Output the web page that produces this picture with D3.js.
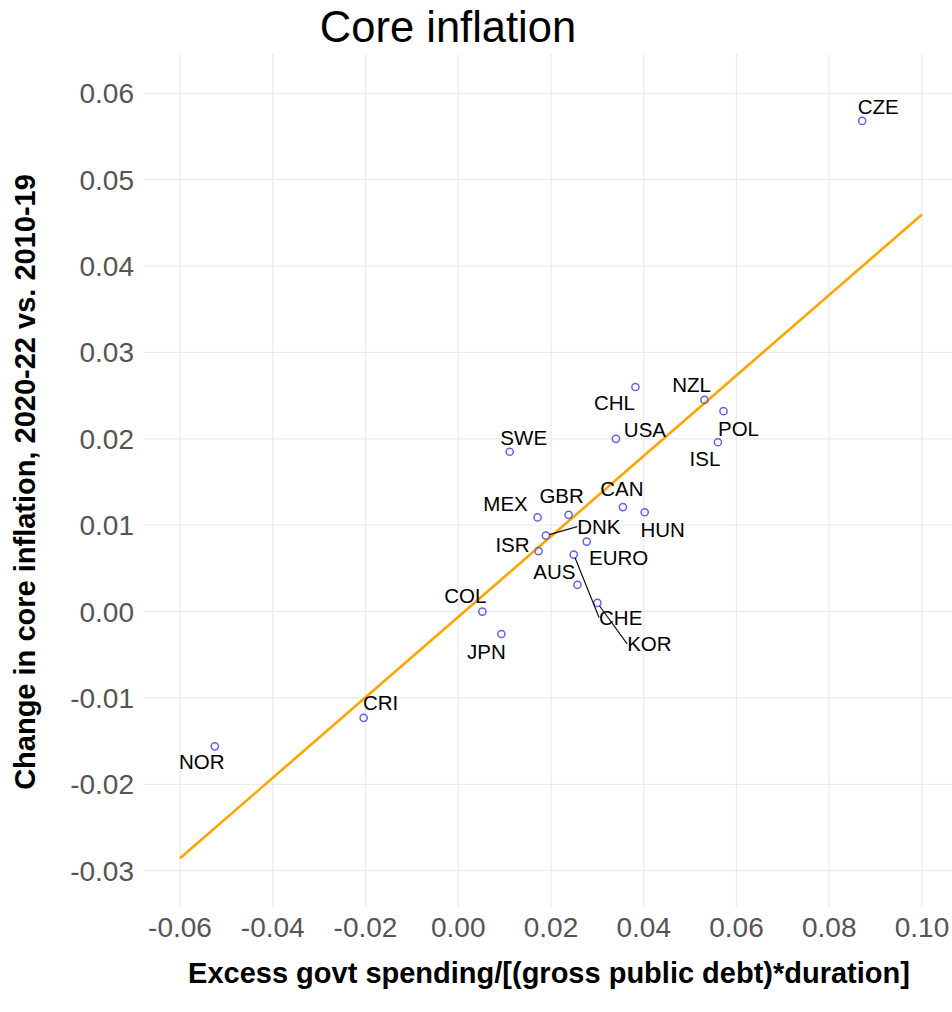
<!DOCTYPE html>
<html>
<head>
<meta charset="utf-8">
<script src="https://cdn.jsdelivr.net/npm/d3@7"></script>
<style>
  body { margin: 0; background: #fff; }
  svg { display: block; font-family: "Liberation Sans", Arial, Helvetica, sans-serif; }
</style>
</head>
<body>
<svg id="chart" width="952" height="1012"></svg>
<script>
'use strict';

var countries  = ['CZE', 'NZL', 'POL', 'ISL', 'CHL', 'USA', 'SWE', 'MEX', 'GBR', 'CAN', 'HUN',
                  'DNK', 'ISR', 'EURO', 'CHE', 'AUS', 'KOR', 'COL', 'JPN', 'CRI', 'NOR'];
var spending   = [0.0871, 0.0531, 0.0572, 0.0560, 0.0382, 0.0340, 0.0111, 0.0171, 0.0238, 0.0355, 0.0402,
                  0.0189, 0.0173, 0.0277, 0.0249, 0.0257, 0.0300, 0.0052, 0.0093, -0.0204, -0.0525];
var coreChange = [0.0568, 0.0245, 0.0232, 0.0196, 0.0260, 0.0200, 0.0185, 0.0109, 0.0112, 0.0121, 0.0115,
                  0.0088, 0.0070, 0.0081, 0.0066, 0.0031, 0.0010, 0.0000, -0.0026, -0.0123, -0.0156];
var xTicks = [-0.06, -0.04, -0.02, 0.00, 0.02, 0.04, 0.06, 0.08, 0.10];
var yTicks = [-0.03, -0.02, -0.01, 0.00, 0.01, 0.02, 0.03, 0.04, 0.05, 0.06];
var fitRange = [-0.06, 0.10];

// where the repelled labels ended up, px from their point
var labelNudge = {
  CZE: [16, -14], NZL: [-13, -15], POL: [15, 18], ISL: [-13, 16], CHL: [-21, 16],
  USA: [29, -9], SWE: [14, -14], MEX: [-32, -14], GBR: [-7, -19], CAN: [-1, -18],
  HUN: [18, 17], DNK: [53, -9], ISR: [-26, -6], EURO: [32, 16], CHE: [47, 63],
  AUS: [-23, -13], KOR: [52, 41], COL: [-17, -16], JPN: [-15, 18], CRI: [17, -15],
  NOR: [-13, 15]
};

var svg = d3.select('#chart');
var panel = { left: 143, right: 960, top: 54, bottom: 907 };

var x = d3.scaleLinear().domain([-0.06, 0.10]).range([180, 922]);
var y = d3.scaleLinear().domain([-0.03, 0.06]).range([870.7, 93.3]);

var fmt = d3.formatLocale({ decimal: '.', thousands: ',', grouping: [3], currency: ['', ''], minus: '-' }).format('.2f');

var data = countries.map(function(c, i) {
  return { name: c, x: spending[i], y: coreChange[i] };
});

// grid
var grid = svg.append('g');
grid.selectAll('line.v').data(xTicks).enter().append('line')
  .attr('x1', function(d) { return x(d); }).attr('x2', function(d) { return x(d); })
  .attr('y1', panel.top).attr('y2', panel.bottom)
  .attr('stroke', '#ebebeb').attr('stroke-width', 1.3);
grid.selectAll('line.h').data(yTicks).enter().append('line')
  .attr('y1', function(d) { return y(d); }).attr('y2', function(d) { return y(d); })
  .attr('x1', panel.left).attr('x2', panel.right)
  .attr('stroke', '#ebebeb').attr('stroke-width', 1.3);

// tick labels
svg.append('g').selectAll('text').data(xTicks).enter().append('text')
  .attr('x', function(d) { return x(d); }).attr('y', 937)
  .attr('text-anchor', 'middle').attr('font-size', 28).attr('fill', '#555')
  .text(fmt);
svg.append('g').selectAll('text').data(yTicks).enter().append('text')
  .attr('x', 134).attr('y', function(d) { return y(d) + 10; })
  .attr('text-anchor', 'end').attr('font-size', 28).attr('fill', '#555')
  .text(fmt);

// lm fit, like geom_smooth(method = "lm", fullrange = TRUE)
var mx = d3.mean(spending), my = d3.mean(coreChange);
var sxy = d3.sum(data, function(d) { return (d.x - mx) * (d.y - my); });
var sxx = d3.sum(data, function(d) { return (d.x - mx) * (d.x - mx); });
var slope = sxy / sxx, icept = my - slope * mx;

svg.append('path')
  .datum(fitRange)
  .attr('d', d3.line().x(function(d) { return x(d); }).y(function(d) { return y(icept + slope * d); }))
  .attr('fill', 'none').attr('stroke', '#ffa500').attr('stroke-width', 2.6);

// points
svg.append('g').selectAll('circle').data(data).enter().append('circle')
  .attr('cx', function(d) { return x(d.x); })
  .attr('cy', function(d) { return y(d.y); })
  .attr('r', 3.6)
  .attr('fill', 'none').attr('stroke', '#6262ee').attr('stroke-width', 1.5);

// labels
var segs = svg.append('g');
var labels = svg.append('g').selectAll('text').data(data).enter().append('text')
  .attr('x', function(d) { return x(d.x) + labelNudge[d.name][0]; })
  .attr('y', function(d) { return y(d.y) + labelNudge[d.name][1] + 7.3; })
  .attr('text-anchor', 'middle').attr('font-size', 20.5).attr('fill', '#000')
  .text(function(d) { return d.name; });

// leader lines for labels pushed far from their point
labels.each(function(d) {
  var n = labelNudge[d.name];
  if (Math.sqrt(n[0] * n[0] + n[1] * n[1]) < 45) return;
  var b = this.getBBox();
  var px = x(d.x), py = y(d.y);
  var cx = b.x + b.width / 2, cy = y(d.y) + n[1];
  var anchors = [[b.x, cy], [b.x + b.width, cy], [cx, cy - 10], [cx, cy + 10]];
  var best = anchors.reduce(function(a, c) {
    return Math.hypot(c[0] - px, c[1] - py) < Math.hypot(a[0] - px, a[1] - py) ? c : a;
  });
  var dist = Math.hypot(best[0] - px, best[1] - py);
  var sx = px + (best[0] - px) / dist * 3.5, sy = py + (best[1] - py) / dist * 3.5;
  segs.append('line')
    .attr('x1', sx).attr('y1', sy).attr('x2', best[0]).attr('y2', best[1])
    .attr('stroke', '#111').attr('stroke-width', 1.2);
});

// titles
svg.append('text')
  .attr('x', 448).attr('y', 42)
  .attr('text-anchor', 'middle').attr('font-size', 43.5).attr('fill', '#000')
  .text('Core inflation');

svg.append('text')
  .attr('x', 549).attr('y', 983)
  .attr('text-anchor', 'middle').attr('font-size', 29).attr('font-weight', 'bold').attr('fill', '#000')
  .text('Excess govt spending/[(gross public debt)*duration]');

svg.append('text')
  .attr('transform', 'translate(35,482) rotate(-90)')
  .attr('text-anchor', 'middle').attr('font-size', 29).attr('font-weight', 'bold').attr('fill', '#000')
  .text('Change in core inflation, 2020-22 vs. 2010-19');
</script>
</body>
</html>
